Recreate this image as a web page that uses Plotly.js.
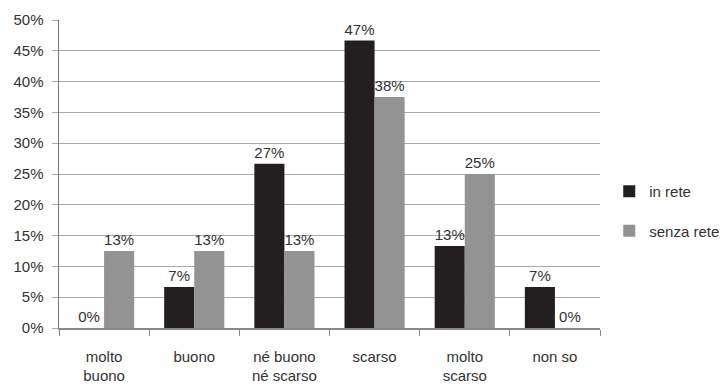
<!DOCTYPE html>
<html><head><meta charset="utf-8">
<script src="https://cdn.plot.ly/plotly-3.0.1.min.js"></script>
<style>body{margin:0;background:#fff}#c{width:721px;height:386px}</style>
</head><body><div id="c"></div>
<script>
const categories = ["molto<br>buono","buono","né buono<br>né scarso","scarso","molto<br>scarso","non so"];
const inRete = [0, 6.67, 26.67, 46.67, 13.33, 6.67];
const inReteLabels = ["0%","7%","27%","47%","13%","7%"];
const senzaRete = [12.5, 12.5, 12.5, 37.5, 25, 0];
const senzaReteLabels = ["13%","13%","13%","38%","25%","0%"];
const yTickVals = [0,5,10,15,20,25,30,35,40,45,50];
const yTickText = ["0%","5%","10%","15%","20%","25%","30%","35%","40%","45%","50%"];

const tf = {family:"Liberation Sans, Arial, sans-serif", size:15, color:"#333"};
const traces = [
 {type:"bar", name:"in rete", x:categories, y:inRete, text:inReteLabels, textposition:"outside",
  textfont:tf, marker:{color:"#231f20"}, legendgroup:"a", cliponaxis:false},
 {type:"bar", name:"senza rete", x:categories, y:senzaRete, text:senzaReteLabels, textposition:"outside",
  textfont:tf, marker:{color:"#939393"}, legendgroup:"b", cliponaxis:false}
];
const layout = {
 width:721, height:386, margin:{l:59,r:121,t:20,b:58, autoexpand:false},
 paper_bgcolor:"#fff", plot_bgcolor:"#fff",
 font:tf, barmode:"group", bargap:0.333, bargroupgap:0,
 showlegend:true,
 legend:{xref:"container", x:0.845, y:0.38, yanchor:"middle", xanchor:"left", font:tf, traceorder:"grouped", tracegroupgap:17, itemwidth:30},
 xaxis:{type:"category", showline:true, linecolor:"#888", linewidth:1.5, ticks:"outside", tickson:"boundaries",
  ticklen:6, tickcolor:"#888", showgrid:false, tickfont:tf, ticklabelstandoff:14, fixedrange:true},
 yaxis:{range:[0,50], tickvals:yTickVals, ticktext:yTickText, showline:true, linecolor:"#777", linewidth:1.5,
  ticks:"outside", ticklen:6, tickcolor:"#aaa", showgrid:true, gridcolor:"#aaa", gridwidth:1,
  zeroline:false, tickfont:tf, ticklabelstandoff:5}
};
Plotly.newPlot("c", traces, layout, {displayModeBar:false, staticPlot:true});
</script></body></html>
